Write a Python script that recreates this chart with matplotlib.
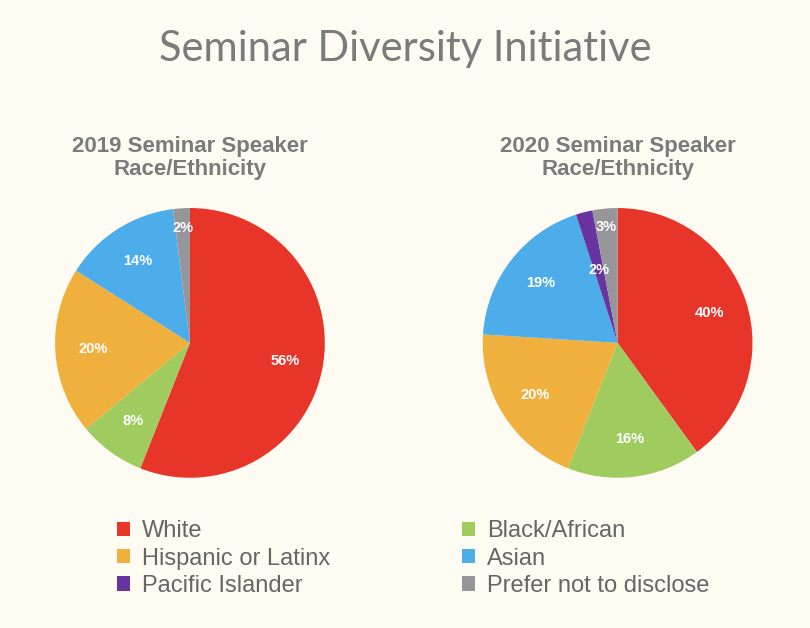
import matplotlib.pyplot as plt
from matplotlib.patches import Patch

categories = ["White", "Black/African", "Hispanic or Latinx", "Asian",
              "Pacific Islander", "Prefer not to disclose"]
colors = ["#E8352A", "#A0CB5F", "#EFB03E", "#4CADEA", "#6A34A0", "#96959A"]
values_2019 = [56, 8, 20, 14, 0, 2]
values_2020 = [40, 16, 20, 19, 2, 3]

BG = "#FEFBF3"
GREY = "#7B7B7B"
SANS = "Liberation Sans"

fig = plt.figure(figsize=(8.1, 6.28), dpi=100, facecolor=BG)
fig.text(0.5, 0.922, "Seminar Diversity Initiative", ha="center", va="center",
         fontsize=30, color=GREY, family="Lato")


def draw_pie(rect, vals, label_r=None):
    ax = fig.add_axes(rect)
    ax.set_facecolor(BG)
    wedges, texts, autotexts = ax.pie(
        vals, colors=colors, startangle=90, counterclock=False,
        autopct=lambda p: f"{p:.0f}%" if p > 0.5 else "",
        pctdistance=0.72,
        textprops=dict(color="white", fontsize=10.5, fontweight="bold",
                       family=SANS))
    if label_r:
        for i, r in label_r.items():
            x, y = autotexts[i].get_position()
            d = (x * x + y * y) ** 0.5
            autotexts[i].set_position((x / d * r, y / d * r))
    ax.set_xlim(-1, 1)
    ax.set_ylim(-1, 1)
    ax.set_aspect("equal")
    return ax


draw_pie([0.068, 0.239, 0.333, 0.43], values_2019, {5: 0.85})
draw_pie([0.596, 0.239, 0.333, 0.43], values_2020, {4: 0.56, 5: 0.86})

for x, yr in [(0.235, "2019"), (0.763, "2020")]:
    fig.text(x, 0.748, f"{yr} Seminar Speaker\nRace/Ethnicity", ha="center",
             va="center", fontsize=16, fontweight="bold", color=GREY,
             family=SANS, linespacing=1.15)

order = [0, 2, 4, 1, 3, 5]
handles = [Patch(facecolor=colors[i], label=categories[i]) for i in order]
leg = fig.legend(handles=handles, ncol=2, loc="upper left",
                 bbox_to_anchor=(0.13, 0.19), frameon=False,
                 prop=dict(family=SANS, size=17),
                 handlelength=0.55, handleheight=0.55, handletextpad=0.5,
                 columnspacing=5.6, labelspacing=0.22, borderpad=0)
for t in leg.get_texts():
    t.set_color("#666666")

fig.savefig("out.png", dpi=100, facecolor=BG)
